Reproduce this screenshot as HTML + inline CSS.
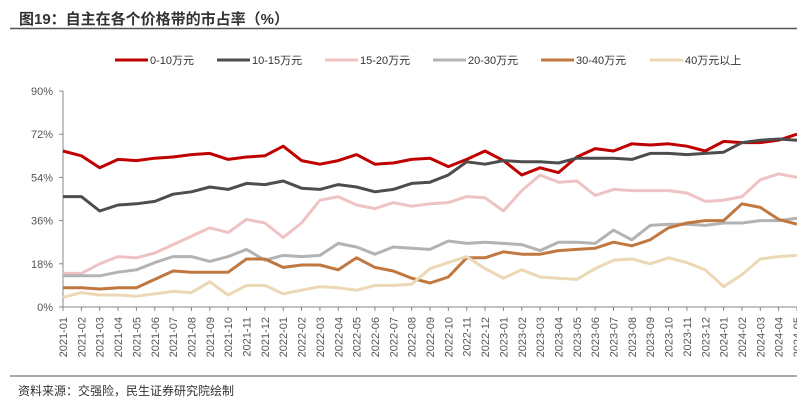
<!DOCTYPE html>
<html><head><meta charset="utf-8"><style>
body{margin:0;background:#fff;width:797px;height:408px;overflow:hidden;font-family:"Liberation Sans","Noto Sans CJK SC",sans-serif}
</style></head><body>
<svg id="c" width="797" height="408" xmlns="http://www.w3.org/2000/svg">
<text x="19" y="24" font-size="15" font-weight="bold" fill="#333" font-family="Liberation Sans, Noto Sans CJK SC, sans-serif">图19：自主在各个价格带的市占率（%）</text>
<line x1="10" y1="28.5" x2="797" y2="28.5" stroke="#555" stroke-width="1.5"/>
<line x1="10" y1="376" x2="797" y2="376" stroke="#555" stroke-width="1"/>
<text x="18" y="395" font-size="12" fill="#333" font-family="Liberation Sans, Noto Sans CJK SC, sans-serif">资料来源：交强险，民生证券研究院绘制</text>
<g id="legend"></g><g id="axes"></g><g id="series"></g>
</svg>
<script>
const categories=[];for(let y=2021;y<=2024;y++)for(let m=1;m<=12;m++){if(y===2024&&m>5)break;categories.push(y+'-'+String(m).padStart(2,'0'));}
const seriesNames=['0-10万元','10-15万元','15-20万元','20-30万元','30-40万元','40万元以上'];
const s0=[65,63,58,61.5,61,62,62.5,63.5,64,61.5,62.5,63,67,61,59.5,61,63.5,59.5,60,61.5,62,58.5,61.5,65,61,55,58,56,62.5,66,65,68,67.5,68,67,65,69,68.5,68.5,69.5,72];
const s1=[46,46,40,42.5,43,44,47,48,50,49,51.5,51,52.5,49.5,49,51,50,48,49,51.5,52,55,60.5,59.5,61,60.5,60.5,60,62,62,62,61.5,64,64,63.5,64,64.5,68.5,69.5,70,69.5];
const s2=[14,14,18,21,20.5,22.5,26,29.5,33,31,36.5,35,29,35,44.5,46,42.5,41,43.5,42,43,43.5,46,45.5,40,48.5,55,52,52.5,46.5,49,48.5,48.5,48.5,47.5,44,44.5,46,53,55.5,54];
const s3=[13,13,13,14.5,15.5,18.5,21,21,19,21,24,19.5,21.5,21,21.5,26.5,25,22,25,24.5,24,27.5,26.5,27,26.5,26,23.5,27,27,26.5,32,28,34,34.5,34.5,34,35,35,36,36,37];
const s4=[8,8,7.5,8,8,11.5,15,14.5,14.5,14.5,20,20,16.5,17.5,17.5,15.5,20.5,16.5,15,12,10,12.5,20.5,20.5,23,22,22,23.5,24,24.5,27,25.5,28,33,35,36,36,43,41.5,36.5,34.5];
const s5=[4,6,5,5,4.5,5.5,6.5,6,10.5,5,9,9,5.5,7,8.5,8,7,9,9,9.5,16,18.5,21,16,12,15.5,12.5,12,11.5,16,19.5,20,18,20.5,18.5,15.5,8.5,13.5,20,21,21.5];
const yTicks=[0,18,36,54,72,90];
const colors=['#c00000','#4d4d4d','#efc3c3','#b3b3b3','#c07840','#ecd8b4'];
const NS='http://www.w3.org/2000/svg';
const X0=63,X1=797,Y0=307,Y1=91;
const xs=i=>X0+i*(X1-X0)/(categories.length-1);
const ys=v=>Y0-v*(Y0-Y1)/90;
function mk(t,a,p){const e=document.createElementNS(NS,t);for(const k in a)e.setAttribute(k,a[k]);p.appendChild(e);return e;}
const ax=document.getElementById('axes');
const yl=mk('line',{x1:X0,y1:Y1,x2:X0,y2:Y0,stroke:'#888','stroke-width':1},ax);


const xl=mk('line',{x1:X0,y1:Y0,x2:X1,y2:Y0,stroke:'#888','stroke-width':1},ax);


yTicks.forEach(v=>{mk('line',{x1:X0-4,y1:ys(v),x2:X0,y2:ys(v),stroke:'#888'},ax);
const t=mk('text',{x:X0-10,y:ys(v)+4,'font-size':11,fill:'#555','text-anchor':'end'},ax);t.textContent=v+'%';

});
categories.forEach((c,i)=>{const x=xs(i);mk('line',{x1:x,y1:Y0,x2:x,y2:Y0+4,stroke:'#888'},ax);
const t=mk('text',{x:0,y:0,'font-size':11,fill:'#555','text-anchor':'end',transform:`translate(${x+4},${Y0+10}) rotate(-90)`},ax);t.textContent=c;

});
const se=document.getElementById('series');
[s0,s1,s2,s3,s4,s5].forEach((s,k)=>{const p=mk('polyline',{points:s.map((v,i)=>xs(i)+','+ys(v)).join(' '),fill:'none',stroke:colors[k],'stroke-width':3,'stroke-linejoin':'round'},se);

});
const lg=document.getElementById('legend');const lx=[115,217,325,433,541,650];
seriesNames.forEach((n,k)=>{const g=mk('g',{},lg);


mk('line',{x1:lx[k],y1:60,x2:lx[k]+33,y2:60,stroke:colors[k],'stroke-width':3},g);
const t=mk('text',{x:lx[k]+35,y:64,'font-size':11,fill:'#333'},g);t.textContent=n;});
</script>
</body></html>
